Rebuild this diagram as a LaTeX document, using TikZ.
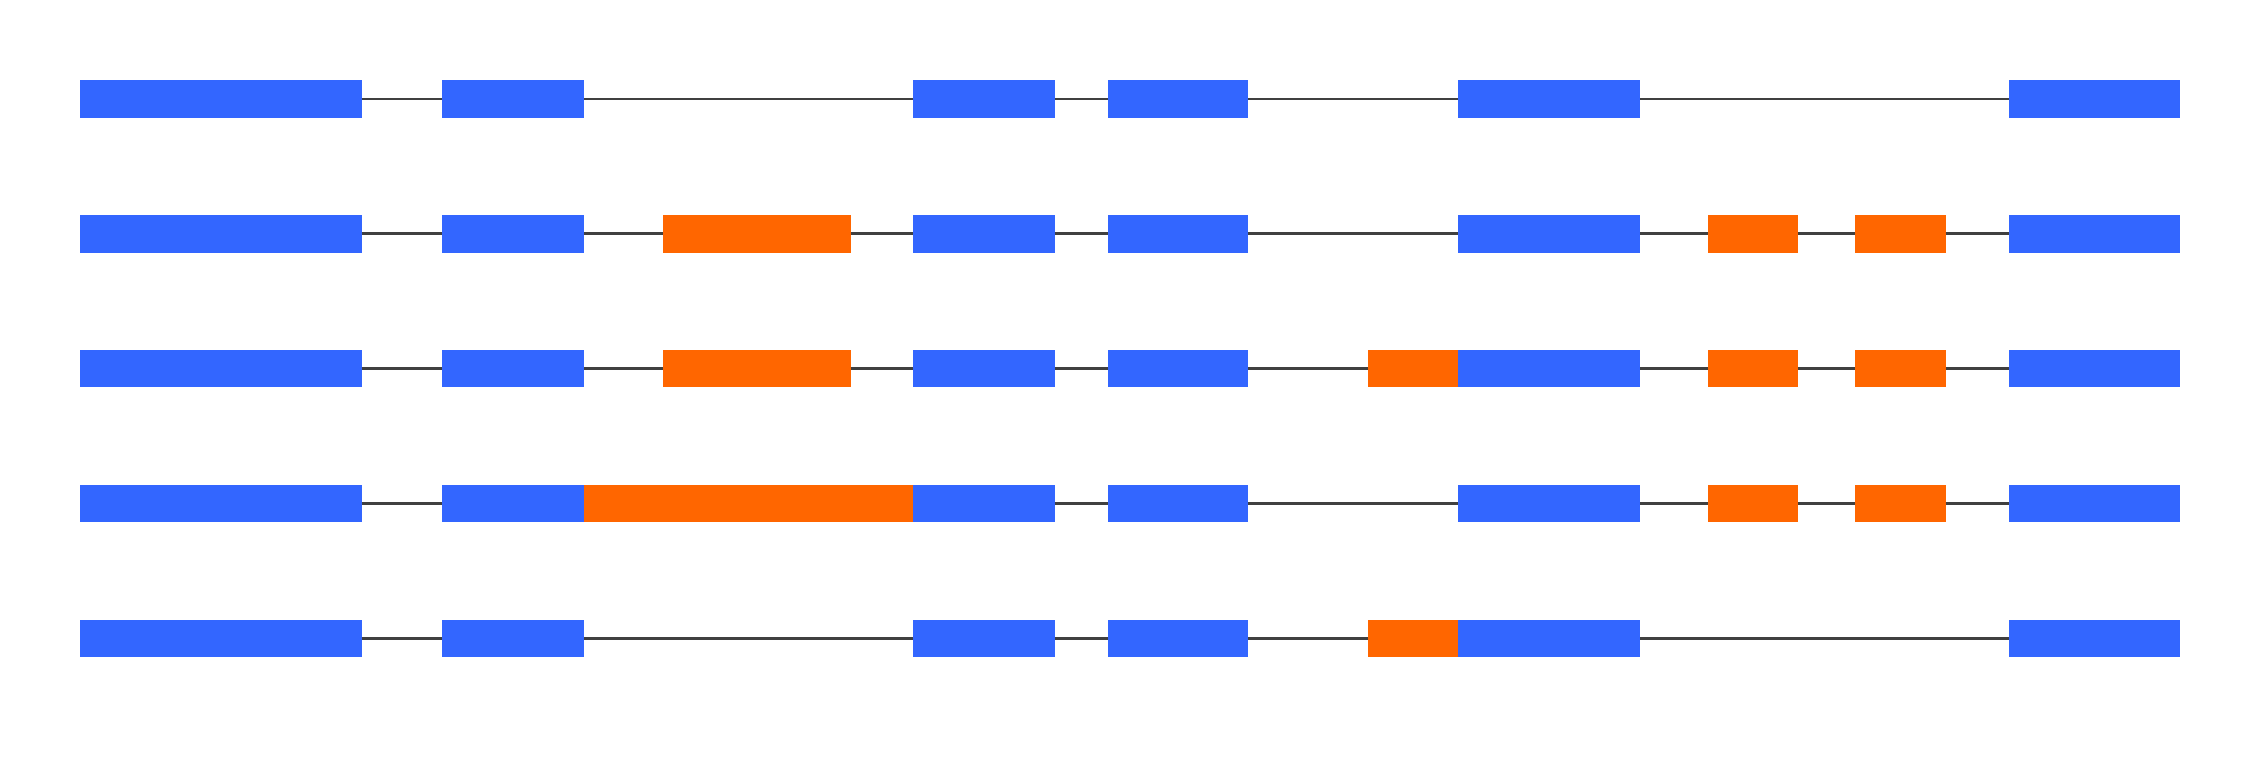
\documentclass[tikz,border=0pt]{standalone}
\definecolor{exblue}{HTML}{3366FF}
\definecolor{exorange}{HTML}{FF6600}
\definecolor{intron}{HTML}{404040}
\tikzset{
  seg/.style={draw=none,inner sep=0pt,outer sep=0pt,minimum height=26pt},
  B/.style={seg,fill=exblue},
  O/.style={seg,fill=exorange},
  link/.style={draw=intron,line width=2pt}
}
\begin{document}
\begin{tikzpicture}[x=1pt,y=-1pt]
\useasboundingbox (0,0) rectangle (1568,537);
\foreach \r/\y/\segs in {
 1/69/{56/252/B,308/407/B,636/735/B,772/870/B,1016/1143/B,1400/1519/B},
 2/163/{56/252/B,308/407/B,462/593/O,636/735/B,772/870/B,1016/1143/B,1190/1253/O,1293/1356/O,1400/1519/B},
 3/257/{56/252/B,308/407/B,462/593/O,636/735/B,772/870/B,953/1016/O,1016/1143/B,1190/1253/O,1293/1356/O,1400/1519/B},
 4/351/{56/252/B,308/407/B,407/636/O,636/735/B,772/870/B,1016/1143/B,1190/1253/O,1293/1356/O,1400/1519/B},
 5/445/{56/252/B,308/407/B,636/735/B,772/870/B,953/1016/O,1016/1143/B,1400/1519/B}}{
  \foreach \a/\b/\c [count=\i] in \segs {
    \pgfmathsetmacro{\w}{\b-\a}
    \pgfmathsetmacro{\m}{(\a+\b)/2}
    \node[\c,minimum width=\w pt] (r\r s\i) at (\m,\y) {};
    \ifnum\i>1
      \pgfmathtruncatemacro{\p}{\i-1}
      \draw[link] (r\r s\p.east) -- (r\r s\i.west);
    \fi
  }
}
\end{tikzpicture}
\end{document}
